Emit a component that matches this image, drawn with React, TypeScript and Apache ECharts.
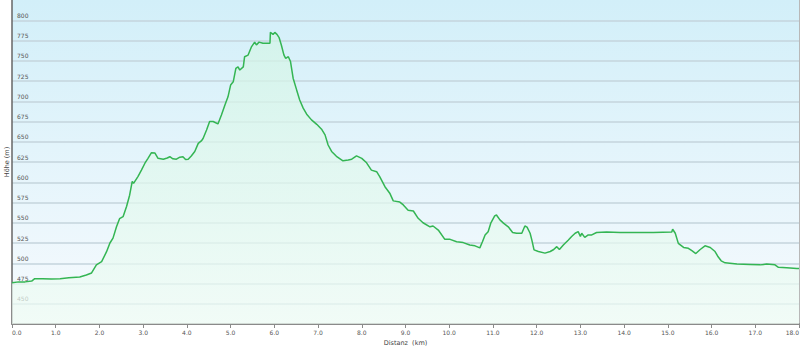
import React, { useEffect, useRef } from "react";
import * as echarts from "echarts";

const distKm: number[] = [
  0.0, 0.15, 0.3, 0.45, 0.52, 0.7, 0.9, 1.1, 1.3, 1.55, 1.7, 1.82, 1.93, 2.05, 2.16, 2.24, 2.31, 2.39, 2.46, 2.54,
  2.62, 2.69, 2.75, 2.78, 2.88, 2.96, 3.04, 3.11, 3.19, 3.27, 3.34, 3.46, 3.55, 3.61, 3.68, 3.76, 3.84, 3.91, 3.97, 4.03,
  4.1, 4.18, 4.26, 4.33, 4.37, 4.45, 4.52, 4.6, 4.71, 4.79, 4.87, 4.94, 5.0, 5.06, 5.12, 5.17, 5.21, 5.29, 5.32, 5.4,
  5.48, 5.55, 5.59, 5.65, 5.74, 5.9, 5.91, 5.97, 6.01, 6.06, 6.11, 6.16, 6.22, 6.26, 6.32, 6.37, 6.43, 6.51, 6.58, 6.66,
  6.74, 6.85, 6.97, 7.08, 7.16, 7.23, 7.31, 7.42, 7.57, 7.69, 7.77, 7.88, 8.0, 8.11, 8.22, 8.34, 8.41, 8.53, 8.64, 8.72,
  8.87, 8.95, 9.06, 9.18, 9.29, 9.4, 9.56, 9.63, 9.75, 9.9, 10.02, 10.17, 10.32, 10.47, 10.59, 10.7, 10.76, 10.82, 10.89, 10.95,
  11.04, 11.08, 11.16, 11.24, 11.35, 11.45, 11.54, 11.66, 11.73, 11.78, 11.85, 11.89, 11.94, 12.04, 12.19, 12.31, 12.39, 12.46, 12.52, 12.61,
  12.72, 12.8, 12.88, 12.95, 13.0, 13.03, 13.1, 13.18, 13.26, 13.37, 13.6, 13.91, 14.29, 14.67, 15.09, 15.11, 15.17, 15.24, 15.36, 15.47,
  15.55, 15.64, 15.74, 15.85, 15.97, 16.08, 16.15, 16.22, 16.31, 16.58, 16.88, 17.11, 17.26, 17.45, 17.53, 17.72, 17.95, 18.0,
];

const elevM: number[] = [
  476, 477, 477, 478, 481, 481, 480.5, 481, 482, 483, 485.5, 488, 498, 502, 514, 525, 531, 545, 555, 557.5,
  570, 584, 601, 598.5, 607, 615, 623.5, 629.5, 636.5, 636, 629.5, 628.5, 630, 631.5, 629, 628.5, 631, 631.5, 628, 628.5,
  632.5, 638, 648, 651, 654, 664.5, 675, 675, 672, 683, 695.5, 705.5, 720, 724, 740.5, 742.5, 738.5, 742.5, 755, 757,
  767.5, 773, 769.5, 773, 771.5, 771.5, 785, 782.5, 785, 782.5, 778.5, 769.5, 757, 753, 755, 749, 728.5, 714, 701.5, 691.5,
  684, 677, 671.5, 665.5, 658.5, 646, 638, 632, 626.5, 627.5, 628.5, 632.5, 629.5, 624, 615, 613, 607, 594.5, 586.5, 577,
  575.5, 572, 565.5, 564.5, 555.5, 550, 545, 546, 541, 529.5, 529.5, 526.5, 525.5, 522.5, 521.5, 519, 526.5, 535, 539, 549.5,
  558.5, 559.5, 553.5, 549.5, 545, 538, 537, 537, 546, 544.5, 537, 528.5, 516.5, 514.5, 512.5, 514.5, 517, 520.5, 517, 522.5,
  528.5, 533, 537, 539, 533, 537, 532, 535, 535, 538, 538.5, 538, 538, 538, 538.5, 542, 537, 524.5, 519.5, 518.5,
  515.5, 512, 517, 521.5, 519.5, 514.5, 508, 503, 500.5, 499, 498.5, 498, 499, 498, 495, 494.5, 493.5, 493.5,
];

const xName = "Distanz  (km)";
const yName = "Höhe (m)";
const FONT = "DejaVu Sans";

export default function App() {
  const ref = useRef<HTMLDivElement>(null);
  useEffect(() => {
    if (!ref.current) return;
    const chart = echarts.init(ref.current, undefined, { renderer: "svg" });
    const data = distKm.map((d, i) => [d, elevM[i]]);
    chart.setOption({
      animation: false,
      backgroundColor: "#ffffff",
      grid: {
        left: 12,
        right: 1,
        top: 0,
        bottom: 25,
        containLabel: false,
        outerBoundsMode: "none",
        show: true,
        borderWidth: 0,
        backgroundColor: new echarts.graphic.LinearGradient(0, 0, 0, 1, [
          { offset: 0, color: "#d2eff9" },
          { offset: 0.9, color: "#f3f9fd" },
          { offset: 1, color: "#f6fbfd" },
        ]),
      },
      xAxis: {
        type: "value",
        min: 0,
        max: 18,
        interval: 1,
        name: xName,
        nameLocation: "middle",
        nameGap: 15,
        nameMoveOverlap: false,
        nameTextStyle: { fontFamily: FONT, fontSize: 6.5, color: "#444" },
        axisLine: { show: true, lineStyle: { color: "#8a8a8a", width: 2 } },
        axisTick: { show: true, length: 4, lineStyle: { color: "#8a8a8a", width: 1 } },
        axisLabel: {
          fontFamily: FONT,
          fontSize: 6,
          color: "#555",
          margin: 5,
          alignMinLabel: "left",
          alignMaxLabel: "right",
          formatter: (v: number) => v.toFixed(1),
        },
        splitLine: { show: false },
      },
      yAxis: [
        {
          type: "value",
          min: 425,
          max: 825,
          interval: 25,
          name: yName,
          nameLocation: "middle",
          nameGap: 2,
          nameRotate: 90,
          nameMoveOverlap: false,
          nameTextStyle: { fontFamily: FONT, fontSize: 6.5, color: "#444" },
          axisLine: { show: true, lineStyle: { color: "#666", width: 1.5 } },
          axisTick: { show: false },
          axisLabel: {
            inside: true,
            margin: 5,
            fontFamily: FONT,
            fontSize: 6,
            color: "#555",
            verticalAlign: "bottom",
            padding: [0, 0, 2, 0],
            showMinLabel: false,
            showMaxLabel: false,
          },
          splitLine: {
            show: true,
            showMinLine: false,
            showMaxLine: false,
            lineStyle: { color: "#c4d5dd", width: 1.5 },
          },
        },
        {
          type: "value",
          position: "right",
          min: 425,
          max: 825,
          interval: 25,
          axisLine: { show: true, lineStyle: { color: "#b8b8b8", width: 1 } },
          axisTick: { show: false },
          axisLabel: { show: false },
          splitLine: { show: false },
        },
      ],
      series: [
        {
          type: "line",
          data,
          yAxisIndex: 0,
          symbol: "none",
          smooth: false,
          lineStyle: { color: "#34b553", width: 1.5 },
          areaStyle: {
            color: new echarts.graphic.LinearGradient(0, 0, 0, 1, [
              { offset: 0, color: "#d3f5e6" },
              { offset: 1, color: "#effcf4" },
            ]),
          },
        },
      ],
    });
    return () => chart.dispose();
  }, []);
  return <div ref={ref} style={{ position: "fixed", left: 0, top: 0, width: 800, height: 349 }} />;
}
